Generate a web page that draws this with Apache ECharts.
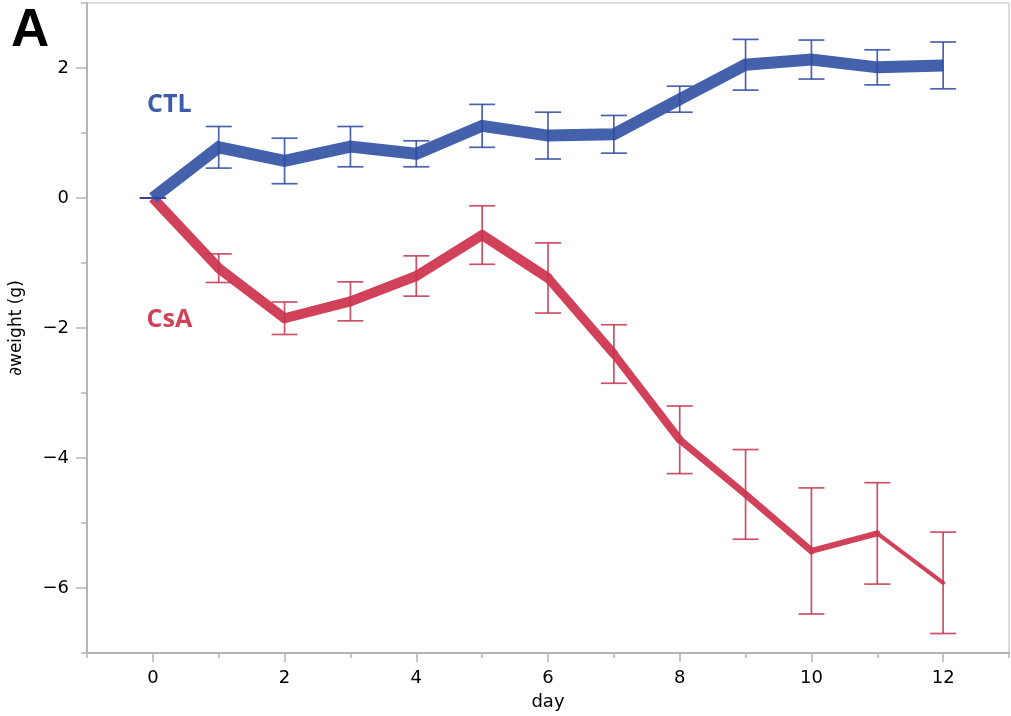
<!DOCTYPE html>
<html>
<head>
<meta charset="utf-8">
<script src="https://cdn.jsdelivr.net/npm/echarts@6/dist/echarts.min.js"></script>
<style>
html,body{margin:0;padding:0;background:#fff;}
#chart{width:1011px;height:716px;}
</style>
</head>
<body>
<div id="chart"></div>
<script>
// ---- data ----
const days = [0, 1, 2, 3, 4, 5, 6, 7, 8, 9, 10, 11, 12];
const ctlMean = [0, 0.78, 0.57, 0.79, 0.68, 1.11, 0.96, 0.98, 1.52, 2.05, 2.13, 2.01, 2.04];
const ctlErr  = [0, 0.32, 0.35, 0.31, 0.20, 0.33, 0.36, 0.29, 0.20, 0.39, 0.30, 0.27, 0.36];
const csaMean = [0, -1.08, -1.85, -1.59, -1.20, -0.57, -1.23, -2.40, -3.72, -4.56, -5.43, -5.16, -5.92];
const csaErr  = [0, 0.22, 0.25, 0.30, 0.31, 0.45, 0.54, 0.45, 0.52, 0.69, 0.97, 0.78, 0.78];
const xTickValues = [0, 2, 4, 6, 8, 10, 12];
const xMinorTicks = [-1, 1, 3, 5, 7, 9, 11, 13];
const yTickValues = [-6, -4, -2, 0, 2];
const yMinorTicks = [-7, -5, -3, -1, 1, 3];
const groupNames = ['CTL', 'CsA'];
const panelLabel = 'A';

// ---- styles ----
const BLUE = '#3e5ca8', BLUE_BAR = '#2b48a0';
const RED = '#d14159', RED_BAR = '#c4344e';
const csaSegWidths = [10, 10, 10, 10, 10, 10, 9, 8, 7, 7, 6, 4];
const FONT = '"DejaVu Sans", sans-serif';

const chart = echarts.init(document.getElementById('chart'), null, {renderer: 'canvas'});

function errData(mean, err) {
  return days.map((d, i) => [d, mean[i] - err[i], mean[i] + err[i]]);
}
function errSeries(mean, err, color) {
  return {
    type: 'custom',
    xAxisIndex: 0, yAxisIndex: 0,
    z: 5,
    data: errData(mean, err),
    renderItem: function (params, api) {
      const x = api.value(0);
      const lo = api.coord([x, api.value(1)]);
      const hi = api.coord([x, api.value(2)]);
      const hw = 13;
      const st = {stroke: color, lineWidth: 1.7, opacity: 0.85};
      return {
        type: 'group',
        children: [
          {type: 'line', shape: {x1: lo[0], y1: lo[1], x2: hi[0], y2: hi[1]}, style: st},
          {type: 'line', shape: {x1: hi[0] - hw, y1: hi[1], x2: hi[0] + hw, y2: hi[1]}, style: st},
          {type: 'line', shape: {x1: lo[0] - hw, y1: lo[1], x2: lo[0] + hw, y2: lo[1]}, style: st}
        ]
      };
    }
  };
}

const csaSegData = days.slice(1).map((d, i) => [days[i], csaMean[i], d, csaMean[i + 1]]);

const fmtMinus = v => String(v).replace('-', '\u2212');

const option = {
  animation: false,
  backgroundColor: '#fff',
  grid: {left: 85, right: 2, top: 3, bottom: 58, show: true, borderColor: '#d4d4d4', borderWidth: 1.5},
  graphic: [{
    type: 'text', left: 11, top: 5,
    style: {text: panelLabel, font: 'bold 53px "Liberation Sans", Arial, sans-serif', fill: '#000'}
  }],
  xAxis: [{
    type: 'value', position: 'bottom', min: -1, max: 13,
    name: 'day', nameLocation: 'middle', nameGap: 40,
    nameTextStyle: {fontFamily: FONT, fontSize: 18, color: '#000'},
    axisLine: {show: true, onZero: false, lineStyle: {color: '#b4b4b4', width: 2}},
    axisTick: {show: true, customValues: xTickValues, length: 9, lineStyle: {color: '#b4b4b4', width: 1.5}},
    axisLabel: {customValues: xTickValues, margin: 16, fontFamily: FONT, fontSize: 18, color: '#000'},
    splitLine: {show: false}
  }, {
    type: 'value', position: 'bottom', min: -1, max: 13,
    axisLine: {show: false, onZero: false},
    axisTick: {show: true, customValues: xMinorTicks, length: 5, lineStyle: {color: '#b4b4b4', width: 1.5}},
    axisLabel: {show: false},
    splitLine: {show: false}
  }],
  yAxis: [{
    type: 'value', position: 'left', min: -7, max: 3,
    name: '\u2202weight (g)', nameLocation: 'middle', nameGap: 62,
    nameTextStyle: {fontFamily: FONT, fontSize: 17, color: '#000'},
    axisLine: {show: true, onZero: false, lineStyle: {color: '#b4b4b4', width: 2}},
    axisTick: {show: true, customValues: yTickValues, length: 11, lineStyle: {color: '#b4b4b4', width: 1.5}},
    axisLabel: {customValues: yTickValues, margin: 18, fontFamily: FONT, fontSize: 18, color: '#000', formatter: fmtMinus},
    splitLine: {show: false}
  }, {
    type: 'value', position: 'left', min: -7, max: 3,
    axisLine: {show: false, onZero: false},
    axisTick: {show: true, customValues: yMinorTicks, length: 6, lineStyle: {color: '#b4b4b4', width: 1.5}},
    axisLabel: {show: false},
    splitLine: {show: false}
  }],
  series: [
    {
      type: 'custom', name: 'CsA line', z: 2,
      data: csaSegData,
      renderItem: function (params, api) {
        const p1 = api.coord([api.value(0), api.value(1)]);
        const p2 = api.coord([api.value(2), api.value(3)]);
        return {
          type: 'line',
          shape: {x1: p1[0], y1: p1[1], x2: p2[0], y2: p2[1]},
          style: {stroke: RED, lineWidth: csaSegWidths[params.dataIndex], lineCap: params.dataIndex === 0 ? 'butt' : 'round'}
        };
      }
    },
    {
      type: 'line', name: 'CTL', z: 3,
      data: days.map((d, i) => [d, ctlMean[i]]),
      symbol: 'none',
      lineStyle: {color: BLUE, width: 12, join: 'miter', opacity: 0.97}
    },
    errSeries(csaMean, csaErr, RED_BAR),
    errSeries(ctlMean, ctlErr, BLUE_BAR),
    {
      type: 'scatter', z: 6, symbolSize: 0,
      itemStyle: {opacity: 1},
      emphasis: {disabled: true},
      data: [
        {value: [0.25, 1.44], name: groupNames[0], label: {color: BLUE}},
        {value: [0.25, -1.87], name: groupNames[1], label: {color: RED}}
      ],
      label: {show: true, position: 'inside', formatter: p => p.name, opacity: 1,
        fontFamily: '"Open Sans", sans-serif', fontWeight: 'bold', fontSize: 25}
    }
  ]
};
chart.setOption(option);
</script>
</body>
</html>
